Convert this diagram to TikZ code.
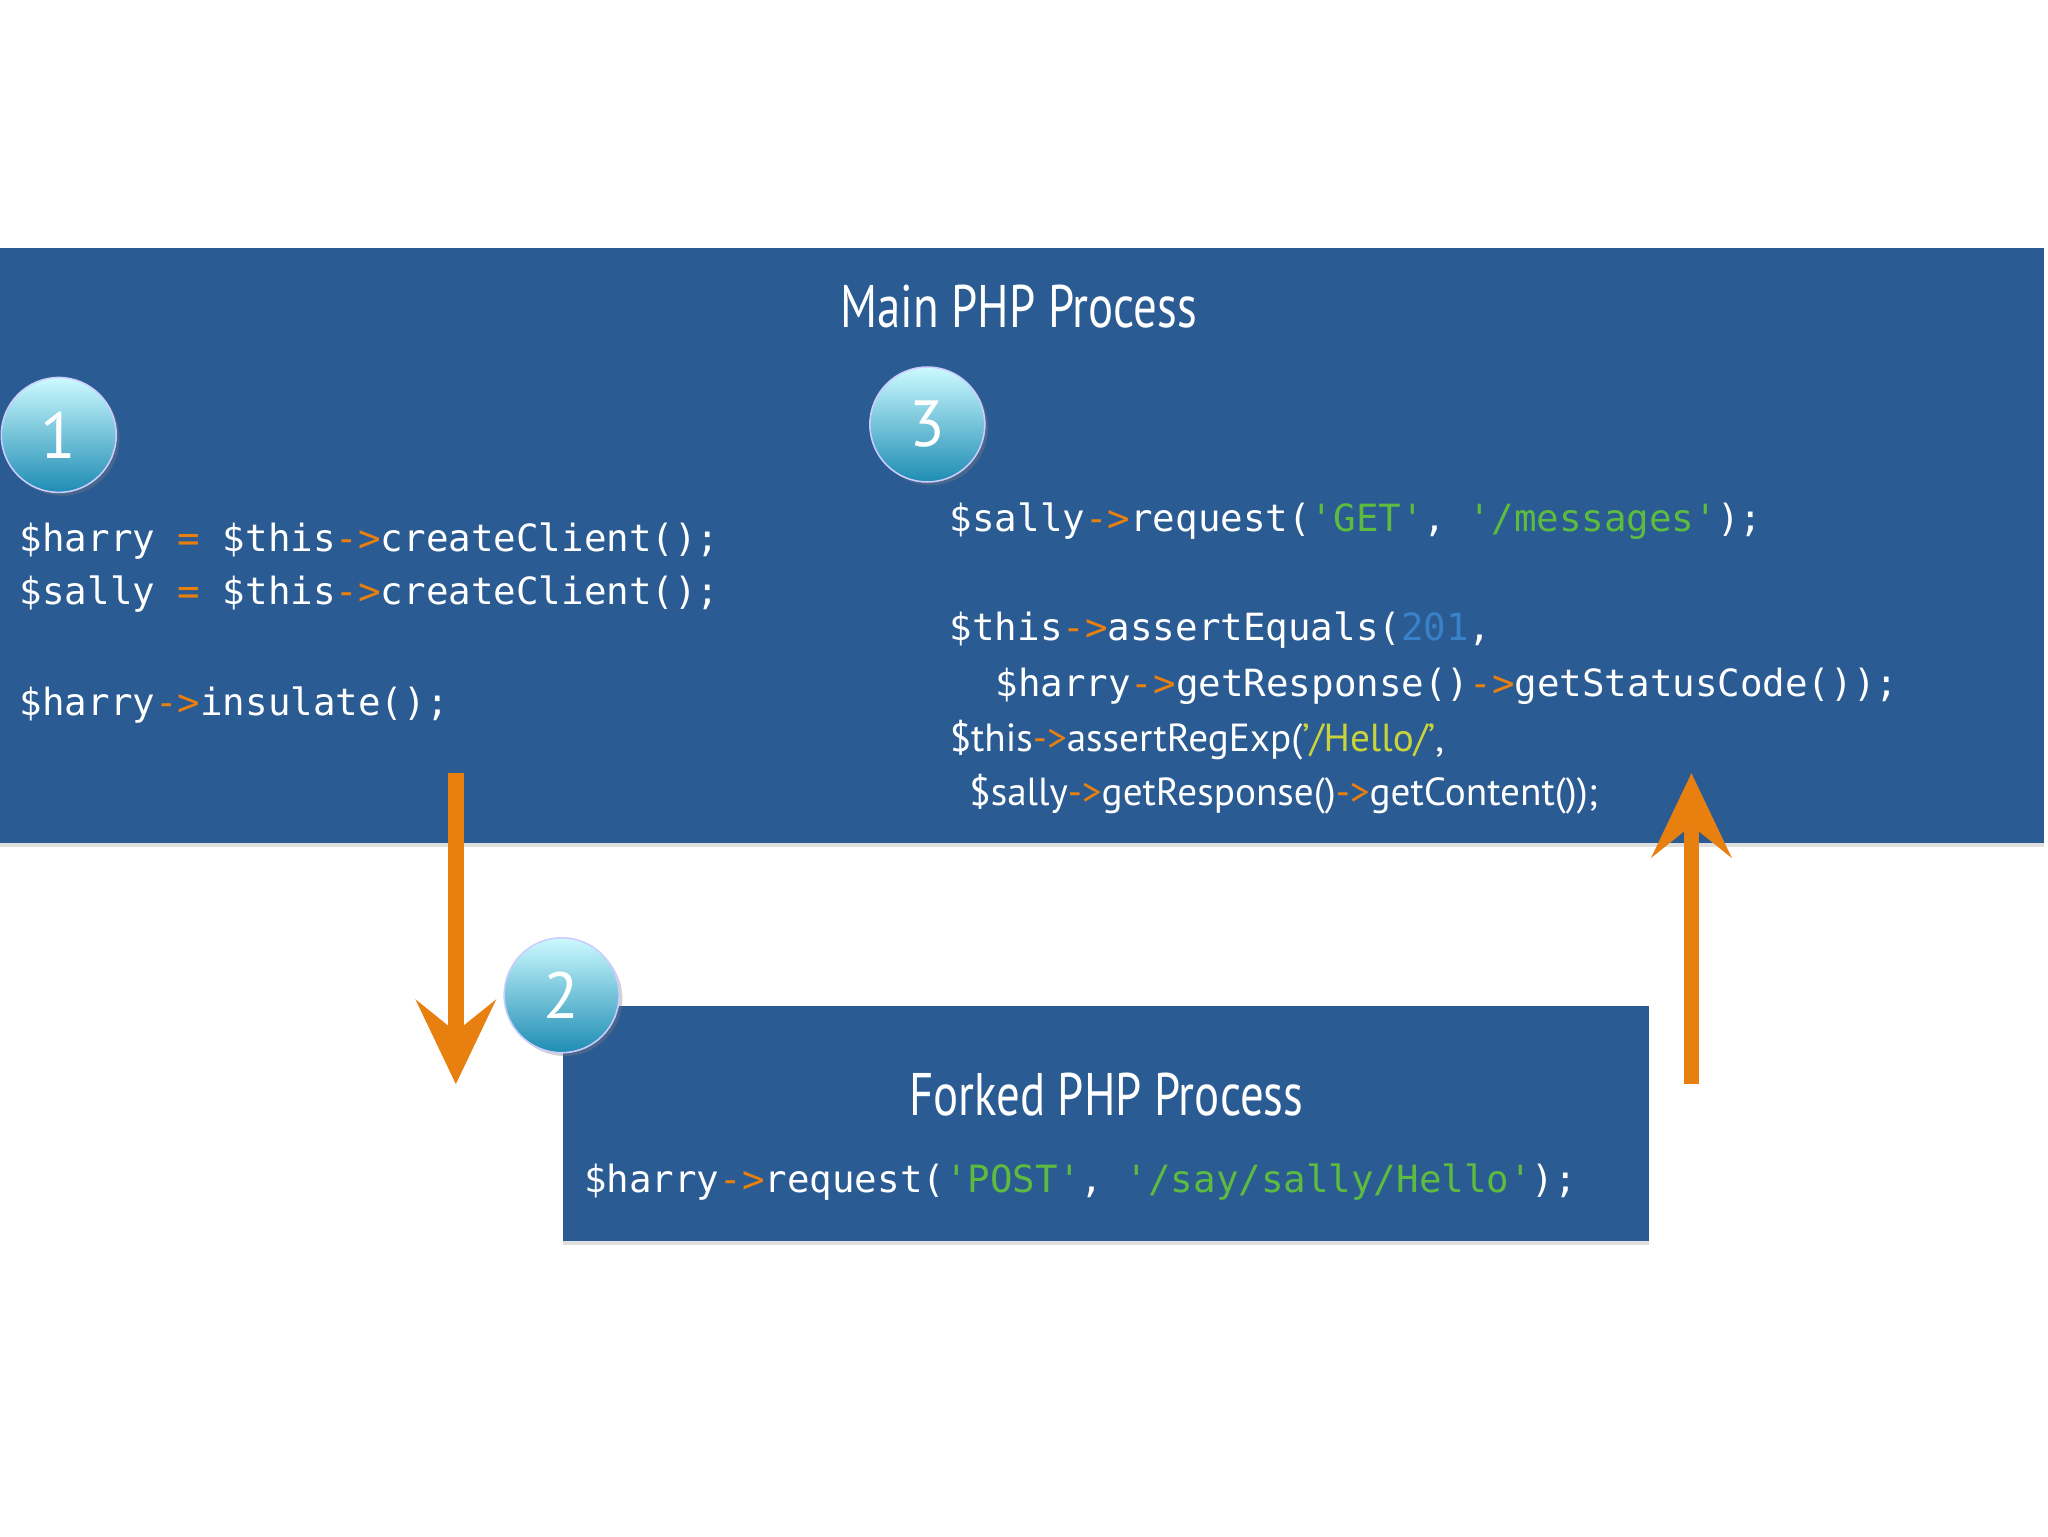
\documentclass[tikz,border=0pt]{standalone}
\usepackage{fontspec}
\setmainfont{PT Sans}
\newfontfamily\mono{DejaVu Sans Mono}
\usetikzlibrary{shadows}
\definecolor{bg}{HTML}{2B5B93}
\definecolor{org}{HTML}{E8800F}
\definecolor{grn}{HTML}{5DBB3F}
\definecolor{ylw}{HTML}{C9D33A}
\definecolor{nb}{HTML}{3A82C8}
\newcommand{\ar}{\textcolor{org}{->}}
\begin{document}
\begin{tikzpicture}[x=1pt,y=-1pt,
  box/.style={fill=bg,draw=none,drop shadow={opacity=0.25,shadow xshift=0pt,shadow yshift=-3pt}},
  code/.style={anchor=base west,text=white,font=\mono\fontsize{28.7}{34}\selectfont,inner sep=0},
  prop/.style={anchor=base west,text=white,font=\fontsize{30}{36}\selectfont,inner sep=0},
  title/.style={text=white,font=\fontsize{46}{50}\selectfont},
  num/.style={circle,minimum size=88pt,top color=blue!10!cyan!20!white,bottom color=bg!70!cyan,draw=white!80!blue,line width=1.2pt,text=white,font=\fontsize{50}{54}\selectfont,drop shadow={opacity=0.35}},
  arr/.style={org,line width=12pt}]
\useasboundingbox (0,0) rectangle (1568,1176);
\fill[white] (0,0) rectangle (1568,1176);
\node[box,minimum width=1565pt,minimum height=455pt,anchor=north west,inner sep=0] (main) at (0,190) {};
\node[box,minimum width=831pt,minimum height=180pt,anchor=north west,inner sep=0] (fork) at (431,770) {};
\node[title] (mt) at (780,235) {\scalebox{0.78}[1]{Main PHP Process}};
\node[title] (ft) at (847,838) {\scalebox{0.78}[1]{Forked PHP Process}};
\node[num] (n1) at (45,333) {1};
\node[num] (n3) at (710,325) {3};
% arrows
\coordinate (a1) at (349,592);
\coordinate (b1) at (349,830);
\coordinate (a2) at (1295,830);
\coordinate (b2) at (1295,592);
\draw[arr] (a1) -- (349,790);
\fill[org] (b1) -- (318,765) -- (349,790) -- (380,765) -- cycle;
\draw[arr] (a2) -- (1295,632);
\fill[org] (b2) -- (1264,657) -- (1295,632) -- (1326,657) -- cycle;
\node[num] (n2) at (430,762) {2};
% code left
\node[code] (l1) at (15,422) {\$harry \textcolor{org}{=} \$this\ar createClient();};
\node[code] (l2) at (15,463) {\$sally \textcolor{org}{=} \$this\ar createClient();};
\node[code] (l3) at (15,548) {\$harry\ar insulate();};
% code right
\node[code] (r1) at (727,407) {\$sally\ar request(\textcolor{grn}{'GET'}, \textcolor{grn}{'/messages'});};
\node[code] (r2) at (727,490) {\$this\ar assertEquals(\textcolor{nb}{201},};
\node[code] (r3) at (762,533) {\$harry\ar getResponse()\ar getStatusCode());};
\node[prop] (r4) at (727,575) {\$this\textcolor{org}{->}assertRegExp(\textcolor{ylw}{'/Hello/'},};
\node[prop] (r5) at (742,617) {\$sally\textcolor{org}{->}getResponse()\textcolor{org}{->}getContent());};
% fork code
\node[code] (f1) at (447,913) {\$harry\ar request(\textcolor{grn}{'POST'}, \textcolor{grn}{'/say/sally/Hello'});};
\end{tikzpicture}
\end{document}
